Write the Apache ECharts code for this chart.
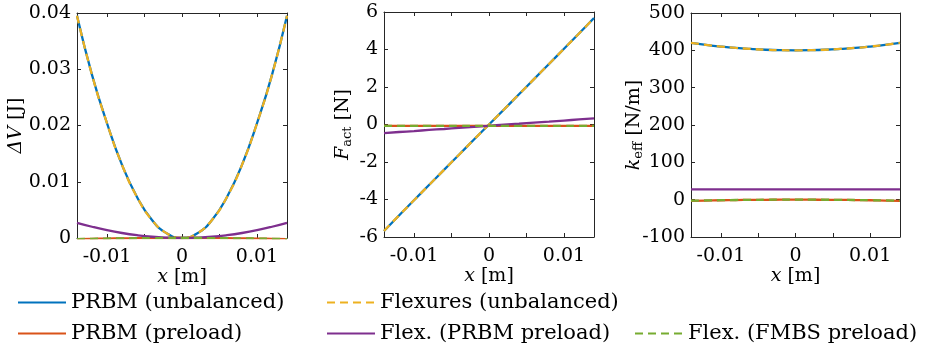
<!DOCTYPE html>
<html><head><meta charset="utf-8">
<script src="https://cdn.jsdelivr.net/npm/echarts@6/dist/echarts.min.js"></script>
<style>html,body{margin:0;padding:0;background:#fff}#c{width:926px;height:344px}</style>
</head><body><div id="c"></div>
<script>
// x positions [m]
const xs = [-0.014,-0.012,-0.010,-0.008,-0.006,-0.004,-0.002,0,0.002,0.004,0.006,0.008,0.010,0.012,0.014];
const seriesNames = ['PRBM (unbalanced)','Flexures (unbalanced)','PRBM (preload)','Flex. (PRBM preload)','Flex. (FMBS preload)'];
// Panel 1: ΔV [J]
const dV_prbmUnb  = [0.0395,0.0290,0.0204,0.0130,0.0073,0.0032,0.0008,0,0.0008,0.0032,0.0073,0.0130,0.0204,0.0290,0.0395];
const dV_flexUnb  = [0.0395,0.0290,0.0204,0.0130,0.0073,0.0032,0.0008,0,0.0008,0.0032,0.0073,0.0130,0.0204,0.0290,0.0395];
const dV_prbmPre  = [-0.0002,-0.00015,-0.0001,-0.00007,-0.00004,-0.00002,0,0,0,-0.00002,-0.00004,-0.00007,-0.0001,-0.00015,-0.0002];
const dV_flexPrbm = [0.0027,0.00200,0.00139,0.00089,0.00050,0.00022,0.00006,0,0.00006,0.00022,0.00050,0.00089,0.00139,0.00200,0.0027];
const dV_flexFmbs = [-0.0002,-0.00015,-0.0001,-0.00007,-0.00004,-0.00002,0,0,0,-0.00002,-0.00004,-0.00007,-0.0001,-0.00015,-0.0002];
// Panel 2: F_act [N]
const F_prbmUnb  = [-5.68,-4.85,-4.04,-3.23,-2.42,-1.61,-0.80,0,0.80,1.61,2.42,3.23,4.04,4.85,5.68];
const F_flexUnb  = [-5.68,-4.85,-4.04,-3.23,-2.42,-1.61,-0.80,0,0.80,1.61,2.42,3.23,4.04,4.85,5.68];
const F_prbmPre  = [-0.07,-0.07,-0.07,-0.07,-0.07,-0.07,-0.07,-0.07,-0.07,-0.07,-0.07,-0.07,-0.07,-0.07,-0.07];
const F_flexPrbm = [-0.46,-0.40,-0.35,-0.29,-0.24,-0.18,-0.13,-0.07,-0.01,0.04,0.10,0.15,0.21,0.27,0.33];
const F_flexFmbs = [-0.07,-0.07,-0.07,-0.07,-0.07,-0.07,-0.07,-0.07,-0.07,-0.07,-0.07,-0.07,-0.07,-0.07,-0.07];
// Panel 3: k_eff [N/m]
const k_prbmUnb  = [420,414.7,410.2,406.5,403.7,401.6,400.4,400,400.4,401.6,403.7,406.5,410.2,414.7,420];
const k_flexUnb  = [420,414.7,410.2,406.5,403.7,401.6,400.4,400,400.4,401.6,403.7,406.5,410.2,414.7,420];
const k_prbmPre  = [-3.2,-2.4,-1.6,-1.0,-0.6,-0.3,-0.1,0,-0.1,-0.3,-0.6,-1.0,-1.6,-2.4,-3.2];
const k_flexPrbm = [27.8,27.7,27.6,27.5,27.4,27.3,27.3,27.3,27.3,27.3,27.4,27.5,27.6,27.7,27.8];
const k_flexFmbs = [-2.8,-2.1,-1.4,-0.9,-0.5,-0.2,-0.1,0,-0.1,-0.2,-0.5,-0.9,-1.4,-2.1,-2.8];
// Axis ticks
const xTicks = [-0.01,-0.005,0,0.005,0.01];
const xLabels = [-0.01,0,0.01];
const yRanges = [{min:0,max:0.04,interval:0.01},{min:-6,max:6,interval:2},{min:-100,max:500,interval:100}];
const yNames = ['{i|ΔV} [J]','{i|F}{s|act} [N]','{i|k}{s|eff} [N/m]'];

const FONT = 'DejaVu Serif';
const AX = '#262626';
const colors = ['#0072BD','#EDB120','#D95319','#7E2F8E','#77AC30'];
const panelData = [
  [dV_prbmUnb,dV_flexUnb,dV_prbmPre,dV_flexPrbm,dV_flexFmbs],
  [F_prbmUnb,F_flexUnb,F_prbmPre,F_flexPrbm,F_flexFmbs],
  [k_prbmUnb,k_flexUnb,k_prbmPre,k_flexPrbm,k_flexFmbs]
];
const grids = [
  {left:77, top:13, width:210, height:225},
  {left:384, top:12, width:210, height:225},
  {left:691, top:13, width:209, height:224}
];
const nameGaps = [51, 30, 46];
const richName = {
  i:{fontStyle:'italic', fontFamily:FONT, fontSize:19, color:'#000'},
  s:{fontFamily:FONT, fontSize:13, color:'#000', padding:[9,0,0,0]}
};
const xAxis=[], yAxis=[], series=[];
grids.forEach((g,gi)=>{
  const common = {type:'value', min:-0.014, max:0.014, gridIndex:gi,
    axisLine:{onZero:false, lineStyle:{color:AX,width:1}},
    splitLine:{show:false},
    axisTick:{inside:true, length:4, customValues:xTicks, lineStyle:{color:AX}}};
  xAxis.push(Object.assign({}, common, {position:'bottom',
    axisLabel:{customValues:xLabels, fontFamily:FONT, fontSize:19, color:'#000', margin:10,
      formatter:v=>v===0?'0':String(v)},
    name:'{i|x} [m]', nameLocation:'middle', nameGap:30, nameMoveOverlap:false,
    nameTextStyle:{fontFamily:FONT, fontSize:19, color:'#000', rich:richName}}));
  xAxis.push(Object.assign({}, common, {position:'top', axisLabel:{show:false}}));
  const yr = yRanges[gi];
  const ycommon = {type:'value', gridIndex:gi, min:yr.min, max:yr.max, interval:yr.interval,
    axisLine:{show:true, onZero:false, lineStyle:{color:AX,width:1}},
    splitLine:{show:false},
    axisTick:{show:true, inside:true, length:4, lineStyle:{color:AX}}};
  yAxis.push(Object.assign({}, ycommon, {position:'left',
    axisLabel:{fontFamily:FONT, fontSize:19, color:'#000', margin:6,
      formatter:v=>String(Math.round(v*1e6)/1e6)},
    name:yNames[gi], nameLocation:'middle', nameRotate:90, nameGap: nameGaps[gi], nameMoveOverlap:false,
    nameTextStyle:{fontFamily:FONT, fontSize:19, color:'#000', rich:richName}}));
  yAxis.push(Object.assign({}, ycommon, {position:'right', axisLabel:{show:false}}));
  const order = [0,2,1,3,4];
  order.forEach(si=>{
    const dashed = (si===1 || si===4);
    series.push({
      name: seriesNames[si], type:'line', xAxisIndex:gi*2, yAxisIndex:gi*2,
      data: xs.map((x,i)=>[x,panelData[gi][si][i]]),
      smooth: true, symbol:'none', animation:false,
      lineStyle:{color:colors[si], width:2.3, type: dashed?[8,5]:'solid'},
      itemStyle:{color:colors[si]}, z: 2+order.indexOf(si)
    });
  });
});
const legPos = [[17,292],[326,292],[17,323],[326,323],[634,323]];
const legend = seriesNames.map((n,i)=>({
  data:[n], left:legPos[i][0], top:legPos[i][1], itemWidth:48, itemHeight:14, padding:0,
  itemStyle:{opacity:0}, selectedMode:false,
  textStyle:{fontFamily:FONT, fontSize:21, color:'#000'}
}));
const chart = echarts.init(document.getElementById('c'), null, {renderer:'canvas'});
chart.setOption({animation:false, grid:grids, xAxis, yAxis, series, legend});
</script></body></html>
